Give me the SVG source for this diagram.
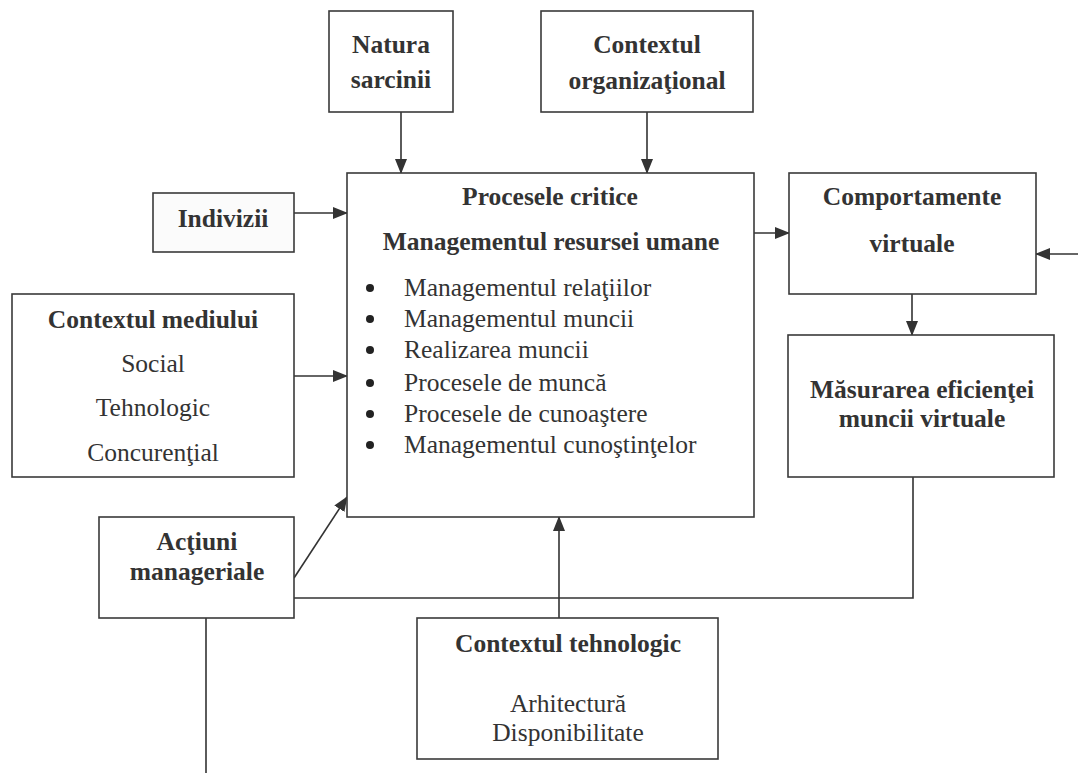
<svg xmlns="http://www.w3.org/2000/svg" width="1078" height="773" viewBox="0 0 1078 773">
<defs>
<marker id="ah" markerUnits="userSpaceOnUse" markerWidth="15" markerHeight="12" refX="14" refY="6" orient="auto">
<path d="M0,0 L15,6 L0,12 Z" fill="#333"/>
</marker>
<style>
.box{fill:#fff;stroke:#3a3a3a;stroke-width:1.6}
.b{font-family:"Liberation Serif","Times New Roman",serif;font-weight:bold;font-size:25.5px;fill:#333;text-anchor:middle}
.r{font-family:"Liberation Serif","Times New Roman",serif;font-size:25.5px;fill:#333;text-anchor:middle}
.l{font-family:"Liberation Serif","Times New Roman",serif;font-size:25.5px;fill:#333}
.dot{fill:#222}
.c{fill:none;stroke:#333;stroke-width:1.6}
.a{marker-end:url(#ah)}
</style>
</defs>
<rect width="1078" height="773" fill="#fff"/>
<g id="connectors">
<line class="c a" x1="401" y1="112" x2="401" y2="173"/>
<line class="c a" x1="647" y1="112" x2="647" y2="173"/>
<line class="c a" x1="294" y1="213" x2="347" y2="213"/>
<line class="c a" x1="294" y1="376" x2="347" y2="376"/>
<line class="c a" x1="294" y1="578" x2="347" y2="497"/>
<line class="c a" x1="559" y1="618" x2="559" y2="517"/>
<line class="c a" x1="754" y1="233" x2="789" y2="233"/>
<line class="c a" x1="1078" y1="254" x2="1036" y2="254"/>
<line class="c a" x1="912" y1="294" x2="912" y2="335"/>
<polyline class="c" points="913,477 913,598 294,598"/>
<line class="c" x1="206" y1="618" x2="206" y2="773"/>
</g>
<g id="natura">
<rect class="box" x="329" y="11" width="124" height="101"/>
<text class="b" x="391" y="53">Natura</text>
<text class="b" x="391" y="88">sarcinii</text>
</g>
<g id="context-org">
<rect class="box" x="541" y="11" width="212" height="101"/>
<text class="b" x="647" y="53">Contextul</text>
<text class="b" x="647" y="89">organizaţional</text>
</g>
<g id="indivizii">
<rect class="box" x="153" y="193" width="141" height="59" style="fill:#fbfbfb"/>
<text class="b" x="223" y="227">Indivizii</text>
</g>
<g id="context-mediu">
<rect class="box" x="12" y="294" width="282" height="183"/>
<text class="b" x="153" y="328">Contextul mediului</text>
<text class="r" x="153" y="372">Social</text>
<text class="r" x="153" y="416">Tehnologic</text>
<text class="r" x="153" y="461">Concurenţial</text>
</g>
<g id="procese">
<rect class="box" x="347" y="173" width="407" height="344"/>
<text class="b" x="550" y="205">Procesele critice</text>
<text class="b" x="551" y="250">Managementul resursei umane</text>
<circle class="dot" cx="370" cy="288" r="4"/>
<text class="l" x="404" y="296">Managementul relaţiilor</text>
<circle class="dot" cx="370" cy="319" r="4"/>
<text class="l" x="404" y="327">Managementul muncii</text>
<circle class="dot" cx="370" cy="350" r="4"/>
<text class="l" x="404" y="358">Realizarea muncii</text>
<circle class="dot" cx="370" cy="383" r="4"/>
<text class="l" x="404" y="391">Procesele de muncă</text>
<circle class="dot" cx="370" cy="414" r="4"/>
<text class="l" x="404" y="422">Procesele de cunoaştere</text>
<circle class="dot" cx="370" cy="445" r="4"/>
<text class="l" x="404" y="453">Managementul cunoştinţelor</text>
</g>
<g id="comportamente">
<rect class="box" x="789" y="173" width="247" height="121"/>
<text class="b" x="912" y="205">Comportamente</text>
<text class="b" x="912" y="252">virtuale</text>
</g>
<g id="masurarea">
<rect class="box" x="788" y="335" width="266" height="142"/>
<text class="b" x="922" y="398">Măsurarea eficienţei</text>
<text class="b" x="922" y="427">muncii virtuale</text>
</g>
<g id="actiuni">
<rect class="box" x="99" y="517" width="195" height="101"/>
<text class="b" x="197" y="550">Acţiuni</text>
<text class="b" x="197" y="580">manageriale</text>
</g>
<g id="context-tehnologic">
<rect class="box" x="417" y="618" width="301" height="141"/>
<text class="b" x="568" y="652">Contextul tehnologic</text>
<text class="r" x="568" y="712">Arhitectură</text>
<text class="r" x="568" y="741">Disponibilitate</text>
</g>
</svg>
